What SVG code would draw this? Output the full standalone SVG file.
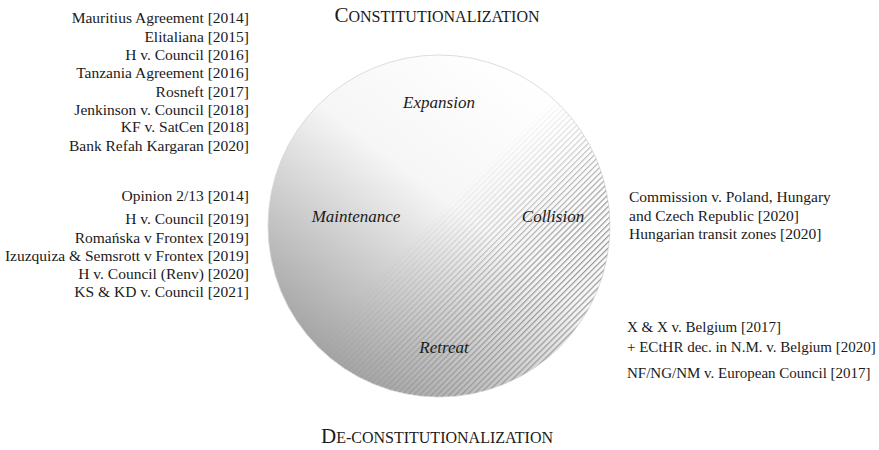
<svg xmlns="http://www.w3.org/2000/svg" width="879" height="450" viewBox="0 0 879 450">
<style>
.t{font-family:"Liberation Serif","DejaVu Serif","Noto Serif",serif;font-size:15.5px;fill:#1a1a1a}
.r{text-anchor:end}
.s{font-size:15px}
.i{font-style:italic;text-anchor:middle;font-size:17px}
.h{text-anchor:middle;font-size:16px}
.cap{font-size:21px}
</style>
<defs>
<linearGradient id="base" x1="0.8" y1="0.1" x2="0.15" y2="0.95">
<stop offset="0" stop-color="#ffffff"/>
<stop offset="0.4" stop-color="#f6f6f6"/>
<stop offset="1" stop-color="#9a9a9a"/>
</linearGradient>
<pattern id="hatch" patternUnits="userSpaceOnUse" width="4.2" height="4.2" patternTransform="rotate(45)">
<rect x="0" y="0" width="1.2" height="4.2" fill="#9a9a9a"/>
</pattern>
<linearGradient id="hm" x1="0.25" y1="0.25" x2="0.85" y2="0.85">
<stop offset="0.38" stop-color="#fff" stop-opacity="0"/>
<stop offset="0.75" stop-color="#fff" stop-opacity="1"/>
</linearGradient>
<mask id="hmask" maskContentUnits="userSpaceOnUse">
<circle cx="439" cy="226" r="171" fill="url(#hm)"/>
</mask>
</defs>
<g id="circle">
<circle cx="439" cy="226" r="171" fill="url(#base)" stroke="#d4d4d4" stroke-width="0.8"/>
<circle cx="439" cy="226" r="171" fill="url(#hatch)" mask="url(#hmask)"/>
</g>
<g id="titles">
<text class="t h" x="437" y="22"><tspan class="cap">C</tspan>ONSTITUTIONALIZATION</text>
<text class="t h" x="437" y="443"><tspan class="cap">D</tspan>E-CONSTITUTIONALIZATION</text>
</g>
<g id="quadrants">
<text class="t i" x="439" y="108">Expansion</text>
<text class="t i" x="356" y="222">Maintenance</text>
<text class="t i" x="553" y="222">Collision</text>
<text class="t i" x="444" y="353">Retreat</text>
</g>
<g id="expansion-cases">
<text class="t r" x="249" y="23">Mauritius Agreement [2014]</text>
<text class="t r" x="249" y="42">Elitaliana [2015]</text>
<text class="t r" x="249" y="60">H v. Council [2016]</text>
<text class="t r" x="249" y="78">Tanzania Agreement [2016]</text>
<text class="t r" x="249" y="97">Rosneft [2017]</text>
<text class="t r" x="249" y="115">Jenkinson v. Council [2018]</text>
<text class="t r" x="249" y="132">KF v. SatCen [2018]</text>
<text class="t r" x="249" y="151">Bank Refah Kargaran [2020]</text>
</g>
<g id="maintenance-cases">
<text class="t r" x="249" y="201">Opinion 2/13 [2014]</text>
<text class="t r" x="249" y="224">H v. Council [2019]</text>
<text class="t r" x="249" y="243">Romańska v Frontex [2019]</text>
<text class="t r" x="249" y="261">Izuzquiza &amp; Semsrott v Frontex [2019]</text>
<text class="t r" x="249" y="279">H v. Council (Renv) [2020]</text>
<text class="t r" x="249" y="297">KS &amp; KD v. Council [2021]</text>
</g>
<g id="collision-cases">
<text class="t" x="629" y="202">Commission v. Poland, Hungary</text>
<text class="t" x="629" y="221">and Czech Republic [2020]</text>
<text class="t" x="629" y="239">Hungarian transit zones [2020]</text>
</g>
<g id="retreat-cases">
<text class="t s" x="627" y="332">X &amp; X v. Belgium [2017]</text>
<text class="t s" x="627" y="352">+ ECtHR dec. in N.M. v. Belgium [2020]</text>
<text class="t s" x="627" y="378">NF/NG/NM v. European Council [2017]</text>
</g>
</svg>
